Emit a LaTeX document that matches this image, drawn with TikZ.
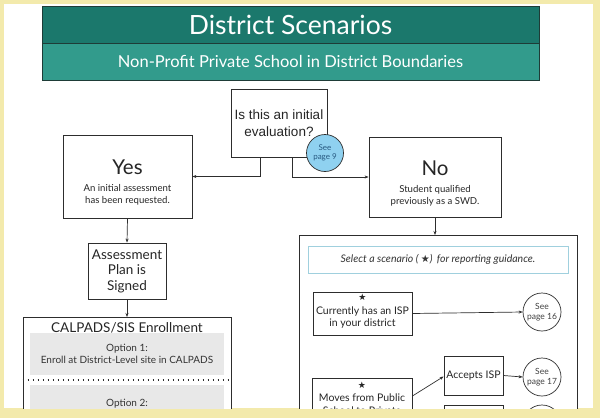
\documentclass[tikz,border=0pt]{standalone}
\usepackage{fontspec}
\setmainfont{Lato}
\newfontfamily\symfont{DejaVu Sans}
\newfontfamily\qfont{Liberation Sans}
\usetikzlibrary{arrows.meta,shapes.geometric}
\definecolor{frameY}{RGB}{243,234,172}
\definecolor{tealD}{RGB}{27,120,108}
\definecolor{tealL}{RGB}{50,155,140}
\definecolor{tealB}{RGB}{30,60,55}
\definecolor{lineC}{RGB}{45,45,45}
\definecolor{bubble}{RGB}{143,209,240}
\definecolor{bubbleT}{RGB}{40,90,130}
\definecolor{selB}{RGB}{160,208,222}
\definecolor{optG}{RGB}{232,232,232}
\tikzset{
  box/.style={draw=lineC, line width=0.8pt, fill=white, rectangle, inner sep=0pt, align=center, text=black!85},
  roundnote/.style={draw=lineC, line width=0.7pt, fill=white, circle, inner sep=0pt, minimum size=38pt, align=center, font=\fontsize{8.5}{10}\selectfont, text=black!75},
  arr/.style={draw=lineC, line width=0.7pt, -{Stealth[length=4pt,width=3pt]}},
  band/.style={rectangle, inner sep=0pt, draw=tealB, line width=0.8pt, text=white, minimum width=497pt},
  plain/.style={inner sep=0pt, align=center, text=black!85},
}
\begin{document}
\begin{tikzpicture}[x=1pt,y=-1pt]
\useasboundingbox (0,0) rectangle (600,418);
\fill[frameY] (0,0) rectangle (600,418);
\begin{scope}
\clip (4,4) rectangle (593,408);
\fill[white] (4,4) rectangle (593,408);
% title bands
\node[band, fill=tealD, minimum height=37pt, font=\fontsize{26.5}{30}\selectfont] (title) at (290.5,24.5) {District Scenarios};
\node[band, fill=tealL, minimum height=37pt, font=\fontsize{16.5}{19}\selectfont] (subtitle) at (290.5,61.5) {Non-Profit Private School in District Boundaries};
% question
\node[box, minimum width=96pt, minimum height=68pt, font=\qfont\fontsize{13.5}{16.5}\selectfont] (q) at (279,123) {Is this an initial\\evaluation?};
\node[roundnote, fill=bubble, minimum size=37pt, text=bubbleT, font=\fontsize{8}{9.5}\selectfont] (see9) at (325,153) {See\\page 9};
% yes / no
\node[box, minimum width=129pt, minimum height=83pt] (yes) at (127.5,176.5) {};
\node[plain, anchor=north] (yest) at (127.5,160) {{\fontsize{20.5}{24}\selectfont Yes}\\[5pt]{\fontsize{9.6}{13.5}\selectfont An initial assessment}\\{\fontsize{9.6}{12}\selectfont has been requested.}};
\node[box, minimum width=132pt, minimum height=80pt] (no) at (435,177) {};
\node[plain, anchor=north] (not) at (435,161) {{\fontsize{20.5}{24}\selectfont No}\\[5pt]{\fontsize{9.6}{13.5}\selectfont Student qualified}\\{\fontsize{9.6}{12}\selectfont previously as a SWD.}};
\draw[arr] ([xshift=-19pt]q.south) |- (yes.east);
\draw[arr] ([xshift=13pt]q.south) |- (no.west);
% left column
\node[box, minimum width=78pt, minimum height=56pt, font=\fontsize{13.5}{15.5}\selectfont] (assess) at (127,271) {Assessment\\Plan is\\Signed};
\draw[arr] (yes.south) -- (assess.north);
\node[box, minimum width=208pt, minimum height=113pt, anchor=north] (calp) at (127,317) {};
\draw[arr] (assess.south) -- (calp.north);
\node[plain, font=\fontsize{13.5}{15}\selectfont] (calpt) at (127,327.5) {CALPADS/SIS Enrollment};
\node[rectangle, fill=optG, minimum width=194pt, minimum height=42pt, inner sep=0pt, align=center, font=\fontsize{10}{12.5}\selectfont, text=black!80] (opt1) at (127,354) {Option 1:\\Enroll at District-Level site in CALPADS};
\draw[lineC, line width=1.1pt, dash pattern=on 0.9pt off 4.1pt] (calp.west |- 0,380) -- (calp.east |- 0,380);
\node[rectangle, fill=optG, minimum width=194pt, minimum height=45pt, inner sep=0pt, anchor=north] (opt2) at (127,385) {};
\node[plain, anchor=north, font=\fontsize{10}{12.5}\selectfont, text=black!80] (opt2t) at (127,398.5) {Option 2:\\Enroll at Private School in CALPADS};
% right column
\node[box, minimum width=278pt, minimum height=195pt, anchor=north] (big) at (438,235) {};
\draw[arr] (no.south) -- (no.south |- big.north);
\node[rectangle, draw=selB, line width=1pt, minimum width=260pt, minimum height=27pt, inner sep=0pt, font=\itshape\fontsize{10.5}{12}\selectfont, text=black!80] (sel) at (438,259.5) {Select a scenario ( {\symfont\upshape\fontsize{10}{12}\selectfont ★})\, for reporting guidance.};
\node[box, minimum width=99pt, minimum height=43pt] (cur) at (362.5,313.5) {};
\node[plain, anchor=north, font=\fontsize{10.5}{12.5}\selectfont] (curt) at (362.5,294) {{\symfont\fontsize{9}{10}\selectfont ★}\\[1pt]Currently has an ISP\\in your district};
\node[roundnote] (c16) at (542,312) {See\\page 16};
\draw[arr] (cur.east) -- (c16.west);
\node[box, minimum width=59pt, minimum height=39pt, font=\fontsize{10.5}{12}\selectfont] (acc) at (473.5,375.5) {Accepts ISP};
\node[roundnote] (c17) at (542,377) {See\\page 17};
\draw[arr] (acc.east) -- (c17.west);
\node[box, minimum width=100pt, minimum height=64pt, anchor=north] (moves) at (362,378) {};
\node[plain, anchor=north, font=\fontsize{10.5}{13}\selectfont] (movest) at (362,381.5) {{\symfont\fontsize{9}{10}\selectfont ★}\\[0pt]Moves from Public\\School to Private};
\draw[arr] ([yshift=-18pt]moves.north east) -- ([yshift=-1pt]acc.west);
\node[box, minimum width=59pt, minimum height=39pt, anchor=north] (acc2) at (473.5,405) {};
\node[roundnote] (c18) at (542,424) {};
\end{scope}
\end{tikzpicture}
\end{document}
